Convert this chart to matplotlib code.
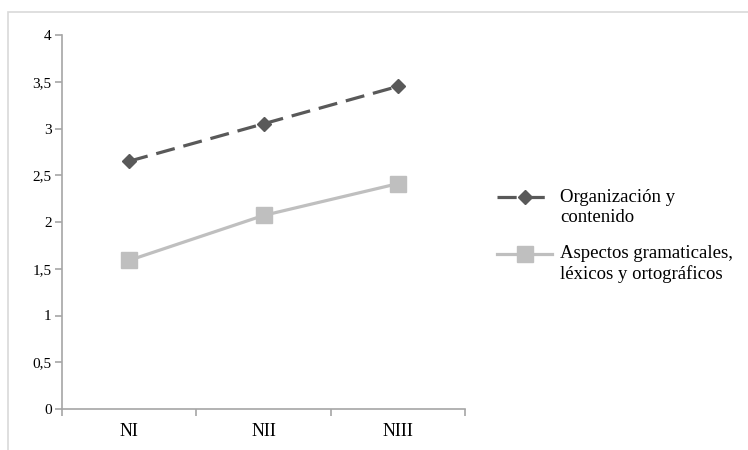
import matplotlib
matplotlib.use("Agg")
import matplotlib.pyplot as plt
import matplotlib.transforms as mtransforms
from matplotlib.legend_handler import HandlerLine2D
from matplotlib.patches import Rectangle
from matplotlib.ticker import FuncFormatter

categories = ["NI", "NII", "NIII"]
organizacion = [2.65, 3.05, 3.45]
aspectos = [1.59, 2.07, 2.41]
labels = ["Organización y\ncontenido", "Aspectos gramaticales,\nléxicos y ortográficos"]
y_ticks = [0, 0.5, 1, 1.5, 2, 2.5, 3, 3.5, 4]

plt.rcParams["font.family"] = ["Liberation Serif", "DejaVu Serif"]
plt.rcParams["font.size"] = 10.5


class FirstLineHandler(HandlerLine2D):
    # Excel puts the legend key next to the first line of a wrapped label
    def create_artists(self, legend, orig_handle, xdescent, ydescent, width, height, fontsize, trans):
        shift = mtransforms.Affine2D().translate(0, 10)
        artists = super().create_artists(legend, orig_handle, xdescent, ydescent,
                                         width, height, fontsize, trans + shift)
        return artists


fig = plt.figure(figsize=(7.48, 4.5), dpi=100)
W, H = 748, 450

# chart area border (only top and left visible in the reference)
fig.patches.append(Rectangle((8 / W, -0.1), 1.2, 1.1 - 12 / H, transform=fig.transFigure,
                             fill=False, edgecolor="#D9D9D9", linewidth=1.2))

ax = fig.add_axes([62 / W, 1 - 409 / H, 403 / W, 374 / H])
x = range(len(categories))

ax.plot(x, organizacion, color="#595959", linewidth=2.3, dashes=(6, 2.8),
        marker="D", markersize=7.5, label=labels[0])
ax.plot(x, aspectos, color="#BFBFBF", linewidth=2.3,
        marker="s", markersize=11, label=labels[1])

ax.set_xlim(-0.5, len(categories) - 0.5)
ax.set_ylim(0, 4)
ax.set_yticks(y_ticks)
ax.yaxis.set_major_formatter(FuncFormatter(lambda v, p: f"{v:g}".replace(".", ",")))

ax.set_xticks([i - 0.5 for i in range(len(categories) + 1)])
ax.set_xticklabels([])
ax.set_xticks(list(x), minor=True)
ax.set_xticklabels(categories, minor=True, fontsize=13)
ax.tick_params(axis="x", which="minor", length=0, pad=10)
ax.tick_params(axis="x", which="major", length=5, color="#A6A6A6", width=1.2)
ax.tick_params(axis="y", length=5, color="#A6A6A6", width=1.2, pad=2.5, labelsize=11)

for side in ["top", "right"]:
    ax.spines[side].set_visible(False)
for side in ["left", "bottom"]:
    ax.spines[side].set_color("#A6A6A6")
    ax.spines[side].set_linewidth(1.2)

ax.legend(loc="center left", bbox_to_anchor=(497 / W, 1 - 236 / H), bbox_transform=fig.transFigure,
          frameon=False, fontsize=13.5, handlelength=2.95, handletextpad=0.43,
          labelspacing=1.05, borderpad=0, borderaxespad=0,
          handler_map={matplotlib.lines.Line2D: FirstLineHandler()})

fig.savefig("out.png", dpi=100)
